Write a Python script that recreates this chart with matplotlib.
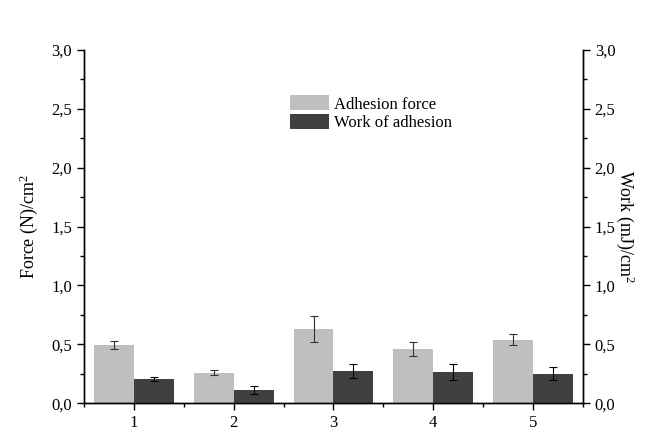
import matplotlib
matplotlib.use("Agg")
import matplotlib.pyplot as plt
import numpy as np
from matplotlib.ticker import FuncFormatter, MultipleLocator

# data
samples = ["1", "2", "3", "4", "5"]
force = [0.495, 0.26, 0.63, 0.46, 0.54]
force_err = [0.035, 0.02, 0.11, 0.06, 0.045]
work = [0.205, 0.115, 0.275, 0.265, 0.25]
work_err = [0.015, 0.035, 0.06, 0.065, 0.055]

LIGHT = "#bfbfbf"
DARK = "#404040"

plt.rcParams["font.family"] = ["Liberation Serif", "DejaVu Serif"]
plt.rcParams["mathtext.fontset"] = "custom"
plt.rcParams["mathtext.rm"] = "Liberation Serif"
plt.rcParams["mathtext.it"] = "Liberation Serif:italic"

fig = plt.figure(figsize=(6.52, 4.34), dpi=100)
ax = fig.add_axes([0.129, 0.071, 0.765, 0.814])
ax2 = ax.twinx()

x = np.arange(1, len(samples) + 1)
w = 0.4
ax.bar(x - w / 2, force, w, color=LIGHT, label="Adhesion force", zorder=2)
ax.errorbar(x - w / 2, force, yerr=force_err, fmt="none", ecolor="#333333",
            elinewidth=0.8, capsize=3, capthick=0.8, zorder=3)
ax2.bar(x + w / 2, work, w, color=DARK, label="Work of adhesion", zorder=2)
ax2.errorbar(x + w / 2, work, yerr=work_err, fmt="none", ecolor="black",
             elinewidth=0.8, capsize=3, capthick=0.8, zorder=3)

fmt = FuncFormatter(lambda v, _: f"{v:.1f}".replace(".", ","))
for a in (ax, ax2):
    a.set_ylim(0, 3.0)
    a.set_xlim(0.5, 5.5)
    a.yaxis.set_major_locator(MultipleLocator(0.5))
    a.yaxis.set_minor_locator(MultipleLocator(0.25))
    a.yaxis.set_major_formatter(fmt)
    a.spines["top"].set_visible(False)
    for s in a.spines.values():
        s.set_linewidth(1.0)
    a.tick_params(axis="y", which="major", direction="out", length=5, width=1.0, labelsize=12)
    a.tick_params(axis="y", which="minor", direction="out", length=3, width=1.0)

ax.set_xticks(x)
ax.set_xticklabels(samples)
ax.xaxis.set_minor_locator(MultipleLocator(0.5))
ax.tick_params(axis="x", which="major", direction="out", length=5, width=1.0, labelsize=12)
ax.tick_params(axis="x", which="minor", direction="out", length=3, width=1.0)

ax.set_ylabel("Force (N)/cm$^{\\rm 2}$", fontsize=13, labelpad=8)
ax2.set_ylabel("Work (mJ)/cm$^{\\rm 2}$", fontsize=13, rotation=270, labelpad=15)

h1, l1 = ax.get_legend_handles_labels()
h2, l2 = ax2.get_legend_handles_labels()
ax2.legend(h1 + h2, l1 + l2, loc="upper left", bbox_to_anchor=(0.40, 0.89),
           frameon=False, fontsize=12, handlelength=2.3, handleheight=1.0,
           handletextpad=0.3, labelspacing=0.1, borderaxespad=0)

fig.savefig("out.png", dpi=100)
